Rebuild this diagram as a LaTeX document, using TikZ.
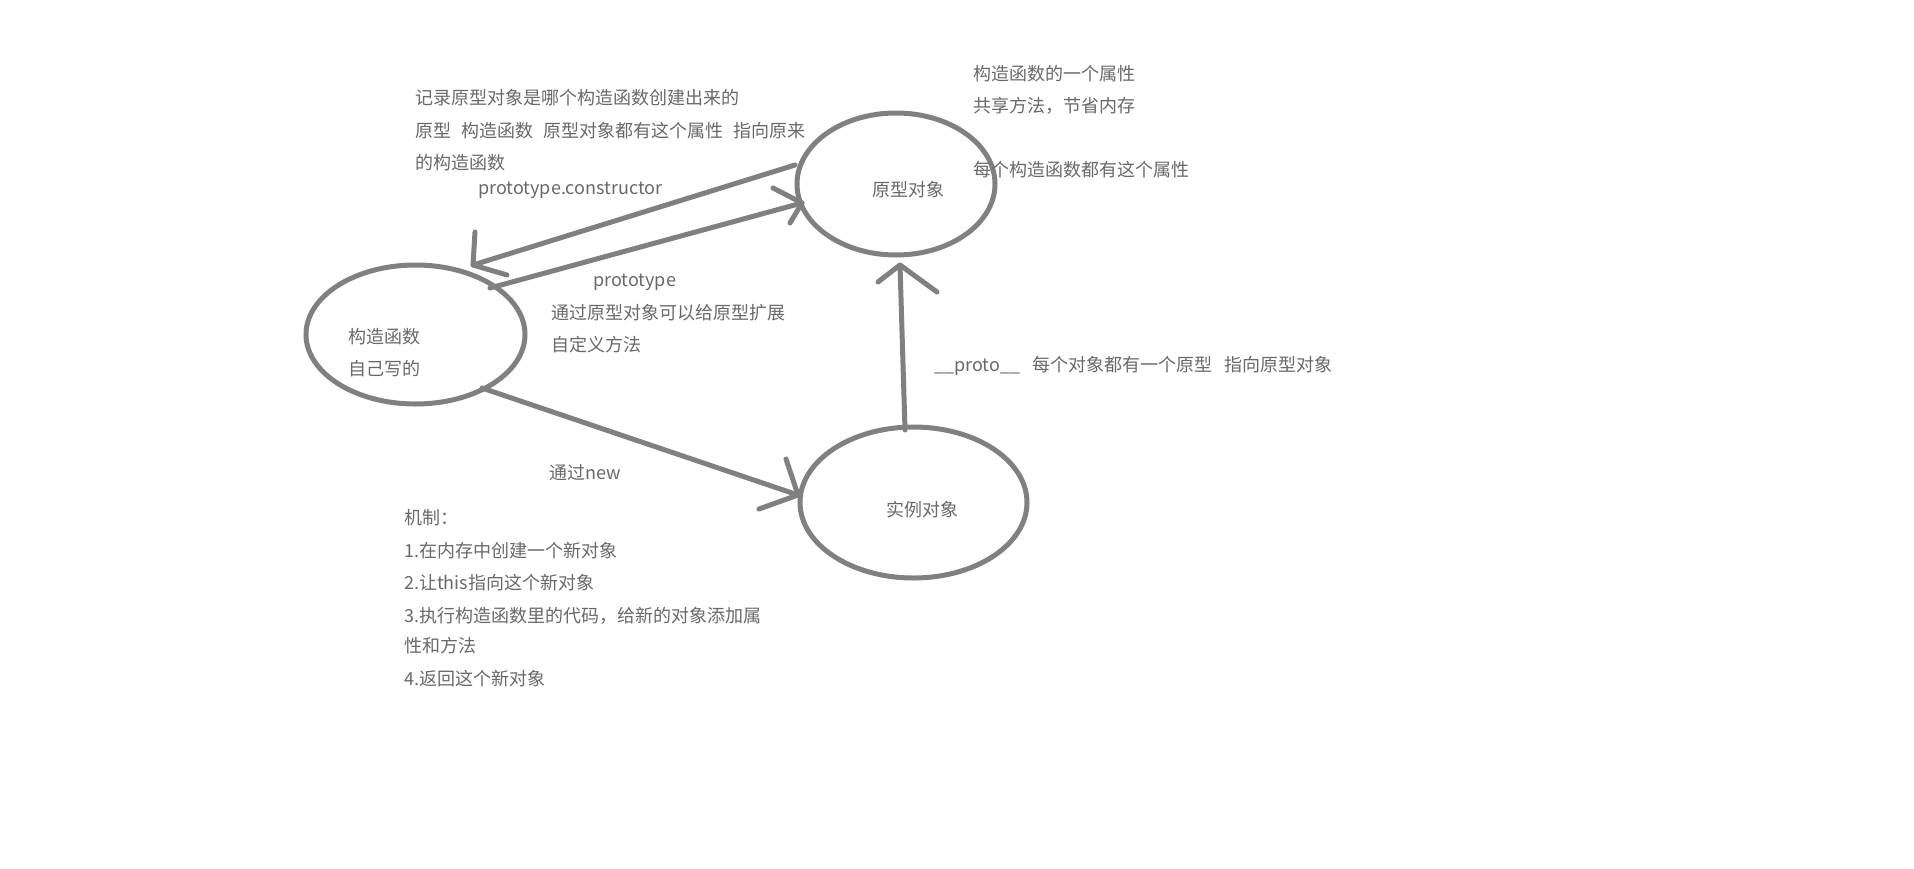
\documentclass[tikz,border=0pt]{standalone}
\usepackage{fontspec}
\setmainfont{Noto Sans CJK SC}
\usetikzlibrary{shapes.geometric}
\definecolor{linegray}{RGB}{128,128,128}
\definecolor{textgray}{RGB}{105,105,105}
\tikzset{
  blob/.style={ellipse, draw=linegray, line width=5pt, inner sep=0pt},
  conn/.style={draw=linegray, line width=5pt, line cap=round, line join=round},
  lbl/.style={anchor=base west, inner sep=0pt, text=textgray, font=\fontsize{18}{18}\selectfont}
}
\begin{document}
\begin{tikzpicture}[x=1pt,y=-1pt]
\useasboundingbox[fill=white] (0,0) rectangle (1914,868);

% ellipses
\node[blob, minimum width=219pt, minimum height=139pt] (ctor) at (415.5,334.5) {};
\node[blob, minimum width=198pt, minimum height=142pt] (proto) at (896,184) {};
\node[blob, minimum width=227pt, minimum height=151pt] (inst) at (913.5,502.5) {};

% ellipse labels
\node[lbl] (ctorA) at (348,343.5) {构造函数};
\node[lbl] (ctorB) at (348,375.5) {自己写的};
\node[lbl] (protoL) at (872,196.5) {原型对象};
\node[lbl] (instL) at (886,516.5) {实例对象};

% connector coordinates
\coordinate (c1s) at (795,165);
\coordinate (c1t) at (473,265);
\coordinate (c1a) at (475,232);
\coordinate (c1b) at (507,275);
\coordinate (c2s) at (490,288);
\coordinate (c2t) at (802,203);
\coordinate (c2a) at (773,188);
\coordinate (c2b) at (790,223);
\coordinate (c3s) at (482,388);
\coordinate (c3t) at (798,495);
\coordinate (c3a) at (786,459);
\coordinate (c3b) at (759,509);
\coordinate (c4s) at (905,430);
\coordinate (c4t) at (900,265);
\coordinate (c4a) at (878,282);
\coordinate (c4b) at (937,292);

% prototype.constructor : proto -> ctor
\draw[conn] (c1s) -- (c1t);
\draw[conn] (c1a) -- (c1t) -- (c1b);
% prototype : ctor -> proto
\draw[conn] (c2s) -- (c2t);
\draw[conn] (c2a) -- (c2t) -- (c2b);
% new : ctor -> inst
\draw[conn] (c3s) -- (c3t);
\draw[conn] (c3a) -- (c3t) -- (c3b);
% __proto__ : inst -> proto
\draw[conn] (c4s) -- (c4t);
\draw[conn] (c4a) -- (c4t) -- (c4b);

% texts top-left
\node[lbl] (t1) at (415,104) {记录原型对象是哪个构造函数创建出来的};
\node[lbl] (t2) at (415,137) {原型\hspace{10pt}构造函数\hspace{10pt}原型对象都有这个属性\hspace{10pt}指向原来};
\node[lbl] (t3) at (415,169) {的构造函数};
\node[lbl] (t4) at (478,194) {prototype.constructor};

% texts top-right
\node[lbl] (r1) at (973,80) {构造函数的一个属性};
\node[lbl] (r2) at (973,112) {共享方法，节省内存};
\node[lbl] (r3) at (973,176) {每个构造函数都有这个属性};

% prototype labels
\node[lbl] (p1) at (593,286) {prototype};
\node[lbl] (p2) at (551,319) {通过原型对象可以给原型扩展};
\node[lbl] (p3) at (551,351) {自定义方法};

% __proto__
\node[lbl] (q1) at (934,371) {\_\_proto\_\_\hspace{12pt}每个对象都有一个原型\hspace{12pt}指向原型对象};

% new
\node[lbl] (n1) at (549,479) {通过new};

% mechanism
\node[lbl] (m0) at (404,524) {机制：};
\node[lbl] (m1) at (404,557) {1.在内存中创建一个新对象};
\node[lbl] (m2) at (404,589) {2.让this指向这个新对象};
\node[lbl] (m3) at (404,622) {3.执行构造函数里的代码，给新的对象添加属};
\node[lbl] (m4) at (404,652) {性和方法};
\node[lbl] (m5) at (404,685) {4.返回这个新对象};
\end{tikzpicture}
\end{document}
